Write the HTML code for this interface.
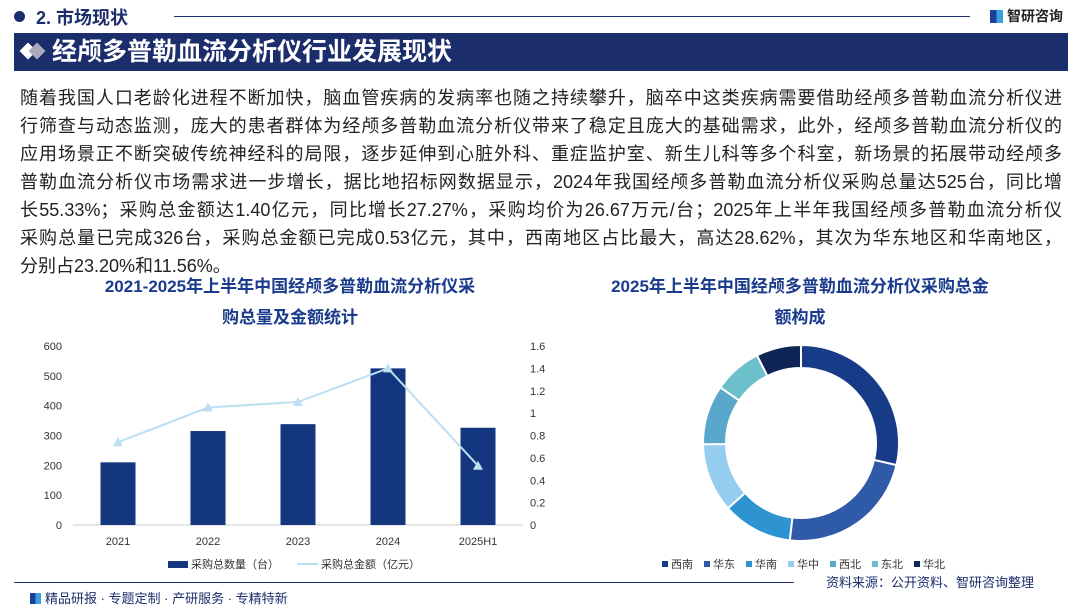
<!DOCTYPE html>
<html><head><meta charset="utf-8"><style>
*{margin:0;padding:0;box-sizing:border-box}
body{width:1080px;height:608px;background:#fff;position:relative;overflow:hidden;font-family:"Liberation Sans","Noto Sans CJK SC",sans-serif;color:#222}
.abs{position:absolute}
.para div{position:absolute;left:20px;width:1042px;font-size:18px;text-align:justify;text-align-last:justify;white-space:nowrap;height:28px;line-height:28px}
.para div.last{text-align-last:left}
.ct{position:absolute;font-weight:bold;color:#1a3a8c;font-size:17px;text-align:center;line-height:31px}
</style></head><body>
<div class="abs" style="left:14px;top:11px;width:11px;height:11px;border-radius:50%;background:#1c2d6b"></div>
<div class="abs" style="left:36px;top:4px;font-size:18px;font-weight:bold;color:#1c2d6b">2. 市场现状</div>
<div class="abs" style="left:174px;top:16px;width:796px;height:1px;background:#1c2d6b"></div>
<div class="abs" style="left:990px;top:6px;font-size:14px;font-weight:bold;color:#222"><span style="display:inline-block;width:13px;height:13px;background:linear-gradient(90deg,#1c3f9a 50%,#3aa0e0 50%);vertical-align:-2px;margin-right:4px"></span>智研咨询</div>
<div class="abs" style="left:14px;top:33px;width:1054px;height:38px;background:#1c2d6b"></div>
<div class="abs" style="left:22px;top:45px;width:12px;height:12px;background:#fff;transform:rotate(45deg)"></div>
<div class="abs" style="left:31px;top:45px;width:12px;height:12px;background:#aab;transform:rotate(45deg)"></div>
<div class="abs" style="left:52px;top:34px;font-size:25px;font-weight:bold;color:#fff;line-height:36px">经颅多普勒血流分析仪行业发展现状</div>
<div class="para">
<div style="top:84px">随着我国人口老龄化进程不断加快，脑血管疾病的发病率也随之持续攀升，脑卒中这类疾病需要借助经颅多普勒血流分析仪进</div>
<div style="top:112px">行筛查与动态监测，庞大的患者群体为经颅多普勒血流分析仪带来了稳定且庞大的基础需求，此外，经颅多普勒血流分析仪的</div>
<div style="top:140px">应用场景正不断突破传统神经科的局限，逐步延伸到心脏外科、重症监护室、新生儿科等多个科室，新场景的拓展带动经颅多</div>
<div style="top:168px">普勒血流分析仪市场需求进一步增长，据比地招标网数据显示，2024年我国经颅多普勒血流分析仪采购总量达525台，同比增</div>
<div style="top:196px">长55.33%；采购总金额达1.40亿元，同比增长27.27%，采购均价为26.67万元/台；2025年上半年我国经颅多普勒血流分析仪</div>
<div style="top:224px">采购总量已完成326台，采购总金额已完成0.53亿元，其中，西南地区占比最大，高达28.62%，其次为华东地区和华南地区，</div>
<div class="last" style="top:252px">分别占23.20%和11.56%。</div>
</div>
<div class="ct" style="left:60px;top:271px;width:460px">2021-2025年上半年中国经颅多普勒血流分析仪采<br>购总量及金额统计</div>
<div class="ct" style="left:570px;top:271px;width:460px">2025年上半年中国经颅多普勒血流分析仪采购总金<br>额构成</div>

<svg class="abs" style="left:0;top:0" width="1080" height="608" id="svg"></svg>

<div class="abs" style="left:14px;top:582px;width:780px;height:1px;background:#1c2d6b"></div>
<div class="abs" style="left:30px;top:588px;font-size:13px;color:#1c2d6b"><span style="display:inline-block;width:11px;height:11px;background:linear-gradient(90deg,#1c3f9a 50%,#3aa0e0 50%);vertical-align:-1px;margin-right:4px"></span>精品研报 · 专题定制 · 产研服务 · 专精特新</div>
<div class="abs" style="left:826px;top:572px;font-size:13px;color:#1c2d6b">资料来源：公开资料、智研咨询整理</div>

<script>
const categories=["2021","2022","2023","2024","2025H1"];
const quantity=[210,315,338,525,326];
const amount=[0.74,1.05,1.10,1.40,0.53];
const leftTicks=[0,100,200,300,400,500,600];
const rightTicks=["0","0.2","0.4","0.6","0.8","1","1.2","1.4","1.6"];
const regions=["西南","华东","华南","华中","西北","东北","华北"];
const shares=[28.62,23.20,11.56,11.4,9.8,8.0,7.4];
const regionColors=["#173b86","#2e5aa8","#2e93d1","#94cdf0","#5aa7cc","#6cc0cc","#0f2556"];

const NS="http://www.w3.org/2000/svg",svg=document.getElementById('svg');
function mk(t,a,txt){const e=document.createElementNS(NS,t);for(const k in a)e.setAttribute(k,a[k]);if(txt!=null)e.textContent=txt;svg.appendChild(e);return e;}
const x0=73,x1=523,yB=525,yT=346;
const yL=v=>yB-(v/600)*(yB-yT), yR=v=>yB-(v/1.6)*(yB-yT);
const band=(x1-x0)/categories.length, xc=i=>x0+band*(i+0.5);
leftTicks.forEach(v=>{const t=mk('text',{x:62,y:yL(v)+4,'text-anchor':'end','font-size':11,fill:'#333'},v);

});
rightTicks.forEach(v=>{const t=mk('text',{x:530,y:yR(+v)+4,'font-size':11,fill:'#333'},v);

});
const ax=mk('line',{x1:x0,x2:x1,y1:yB,y2:yB,stroke:'#ccc'});


categories.forEach((c,i)=>{
 const bw=35,r=mk('rect',{x:xc(i)-bw/2,y:yL(quantity[i]),width:bw,height:yB-yL(quantity[i]),fill:'#13367f'});
 
 
 const t=mk('text',{x:xc(i),y:545,'text-anchor':'middle','font-size':11,fill:'#333'},c);
 
 
});
const ln=mk('polyline',{points:amount.map((v,i)=>xc(i)+','+yR(v)).join(' '),fill:'none',stroke:'#bcdff2','stroke-width':2});


amount.forEach((v,i)=>{const x=xc(i),y=yR(v);const p=mk('polygon',{points:`${x},${y-5} ${x-5},${y+4} ${x+5},${y+4}`,fill:'#bcdff2'});

});
let lg=mk('rect',{x:168,y:561,width:20,height:7,fill:'#13367f'});


lg=mk('text',{x:191,y:568,'font-size':11,fill:'#333'},'采购总数量（台）');


lg=mk('line',{x1:297,x2:318,y1:564,y2:564,stroke:'#bcdff2','stroke-width':2});


lg=mk('text',{x:321,y:568,'font-size':11,fill:'#333'},'采购总金额（亿元）');



// donut
const cx=801,cy=443,R=98,r0=75,tot=shares.reduce((a,b)=>a+b,0);
let a=-Math.PI/2;
shares.forEach((s,i)=>{
 const a2=a+s/tot*2*Math.PI,lf=(a2-a)>Math.PI?1:0;
 const P=(rr,ang)=>(cx+rr*Math.cos(ang))+','+(cy+rr*Math.sin(ang));
 const p=mk('path',{d:`M${P(R,a)} A${R},${R} 0 ${lf} 1 ${P(R,a2)} L${P(r0,a2)} A${r0},${r0} 0 ${lf} 0 ${P(r0,a)} Z`,fill:regionColors[i],stroke:'#fff','stroke-width':2});
 
 
 a=a2;
});
regions.forEach((n,i)=>{const x=662+i*42;
 const r=mk('rect',{x:x,y:561,width:6,height:6,fill:regionColors[i]});
 
 
 const t=mk('text',{x:x+9,y:568,'font-size':11,fill:'#333'},n);
 
 
});
</script>
</body></html>
